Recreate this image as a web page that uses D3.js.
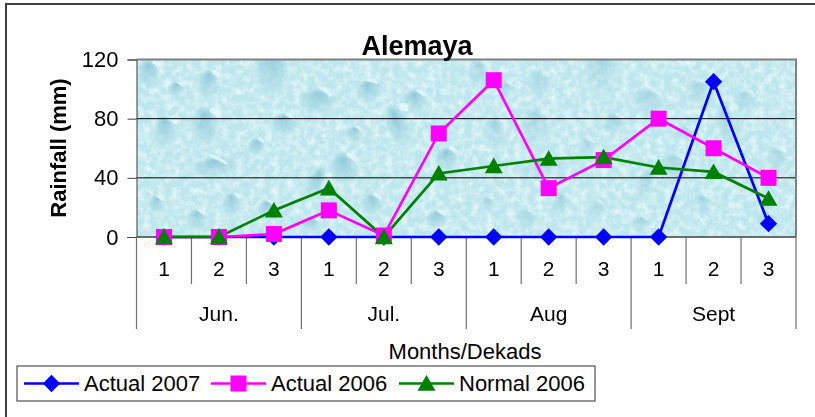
<!DOCTYPE html>
<html>
<head>
<meta charset="utf-8">
<script src="https://cdn.jsdelivr.net/npm/d3@7"></script>
<style>
  html, body { margin: 0; padding: 0; background: #fff; }
  svg { display: block; }
  text { font-family: "Liberation Sans", Arial, sans-serif; fill: #000; }
</style>
</head>
<body>
<svg id="chart" width="815" height="417"></svg>
<script>
const months = ["Jun.", "Jul.", "Aug", "Sept"];
const dekads = ["1", "2", "3"];
const yTicks = [0, 40, 80, 120];
const actual2007 = [0, 0, 0, 0, 0, 0, 0, 0, 0, 0, 105, 9];
const actual2006 = [0, 0, 2, 18, 1, 70, 106, 33, 52, 80, 60, 40];
const normal2006 = [0, 0, 18, 33, 0, 43, 48, 53, 54, 47, 44, 26];

const svg = d3.select("#chart");
const margin = { left: 136.5, right: 796, top: 59.5, bottom: 237 };
const chartWidth = margin.right - margin.left;
const chartHeight = margin.bottom - margin.top;

// outer frame, only top and left fall inside the picture
svg.append("path").attr("d", "M6,417V4H815")
    .attr("fill", "none").attr("stroke", "#404040").attr("stroke-width", 2);

const categories = months.flatMap(m => dekads.map(d => `${m}-${d}`));
const x = d3.scalePoint().domain(categories).range([0, chartWidth]).padding(0.5);
const xBand = d3.scaleBand().domain(categories).range([0, chartWidth]);
const y = d3.scaleLinear().domain([0, 120]).range([chartHeight, 0]);

const defs = svg.append("defs");
const drop = defs.append("radialGradient").attr("id", "drop")
    .attr("cx", "50%").attr("cy", "50%").attr("r", "50%").attr("fx", "50%").attr("fy", "20%");
drop.append("stop").attr("offset", "0%").attr("stop-color", "#7fbdd0").attr("stop-opacity", 0.75);
drop.append("stop").attr("offset", "70%").attr("stop-color", "#9dd3df").attr("stop-opacity", 0.4);
drop.append("stop").attr("offset", "100%").attr("stop-color", "#d4f1f5").attr("stop-opacity", 0.35);
const grain = defs.append("filter").attr("id", "grain").attr("x", 0).attr("y", 0).attr("width", "100%").attr("height", "100%");
grain.append("feTurbulence").attr("type", "fractalNoise").attr("baseFrequency", 0.14).attr("numOctaves", 3).attr("seed", 4);
grain.append("feColorMatrix").attr("values", "0 0 0 0 0.85  0 0 0 0 0.96  0 0 0 0 0.97  1.8 0 0 0 -0.7");
const grainDark = defs.append("filter").attr("id", "grain-dark").attr("x", 0).attr("y", 0).attr("width", "100%").attr("height", "100%");
grainDark.append("feTurbulence").attr("type", "fractalNoise").attr("baseFrequency", 0.16).attr("numOctaves", 2).attr("seed", 11);
grainDark.append("feColorMatrix").attr("values", "0 0 0 0 0.55  0 0 0 0 0.78  0 0 0 0 0.84  1.8 0 0 0 -0.75");
defs.append("clipPath").attr("id", "plot-clip").append("rect").attr("width", chartWidth).attr("height", chartHeight);

const chart = svg.append("g").attr("transform", `translate(${margin.left},${margin.top})`);

// water drop picture behind the plot
const bg = chart.append("g").attr("clip-path", "url(#plot-clip)");
bg.append("rect").attr("width", chartWidth).attr("height", chartHeight).attr("fill", "#bce7ee");
bg.append("rect").attr("width", chartWidth).attr("height", chartHeight).attr("filter", "url(#grain-dark)");
bg.append("rect").attr("width", chartWidth).attr("height", chartHeight).attr("filter", "url(#grain)");
// [cx, cy, rx, ry, angle] of the bigger drops, the picture repeats at about 330px
const drops = [
    [135, 12, 18, 30, 0], [182, 42, 20, 15, 0], [233, 32, 15, 13, -20], [278, 42, 13, 13, 0],
    [68, 68, 15, 22, 0], [28, 73, 12, 18, 0], [262, 68, 12, 25, -20], [148, 65, 15, 12, 0],
    [78, 108, 27, 11, -8], [207, 110, 17, 18, 0], [178, 125, 9, 20, 25], [120, 88, 10, 10, 0],
    [218, 75, 10, 9, 0], [310, 100, 12, 14, 0], [95, 145, 10, 13, 0], [60, 160, 12, 11, 0],
    [235, 145, 12, 12, 0], [300, 160, 12, 10, 0], [72, 25, 12, 16, 0], [12, 15, 12, 16, 0],
    [40, 30, 10, 8, 0], [130, 150, 10, 10, 0], [175, 165, 11, 9, 0], [20, 145, 9, 9, 0]
];
[0, 330].forEach((dx, t) => {
    const tile = bg.append("g").attr("opacity", t === 0 ? 1 : 0.65);
    tile.selectAll("ellipse").data(drops).join("ellipse")
        .attr("transform", d => `translate(${d[0] + dx},${d[1]}) rotate(${d[4]})`)
        .attr("rx", d => d[2]).attr("ry", d => d[3])
        .attr("fill", "url(#drop)");
    // small bright highlights on the drops
    tile.selectAll("path").data(drops).join("path")
        .attr("transform", d => `translate(${d[0] + dx},${d[1]}) rotate(${d[4] + 35})`)
        .attr("d", d => `M${-d[2] * 0.35},${-d[3] * 0.72}a${d[2] * 0.4},${d[3] * 0.2} 0 1 1 ${d[2] * 0.7},0z`)
        .attr("fill", "#e6f9fa").attr("opacity", 0.8);
});

// gridlines
chart.append("g").selectAll("line").data(yTicks.filter(d => d > 0 && d < 120)).join("line")
    .attr("x1", 0).attr("x2", chartWidth).attr("y1", d => y(d)).attr("y2", d => y(d))
    .attr("stroke", "#000").attr("stroke-width", 1);

// plot border
chart.append("path").attr("d", `M0,0H${chartWidth}V${chartHeight}`)
    .attr("fill", "none").attr("stroke", "#808080").attr("stroke-width", 2);

// y axis
const yAxis = chart.append("g").call(d3.axisLeft(y).tickValues(yTicks).tickSize(9).tickPadding(9));
yAxis.select(".domain").attr("stroke", "#404040");
yAxis.selectAll("line").attr("stroke", "#404040");
yAxis.selectAll("text").style("font-size", "22px").style("font-family", "Liberation Sans");

// multi level x axis
const xAxis = chart.append("g").attr("transform", `translate(0,${chartHeight})`);
xAxis.append("line").attr("x2", chartWidth).attr("stroke", "#404040").attr("stroke-width", 1.5);
const tickEdges = categories.map(c => xBand(c)).concat(chartWidth);
xAxis.selectAll(".minor").data(tickEdges).join("line").attr("class", "minor")
    .attr("x1", d => d).attr("x2", d => d).attr("y1", 0)
    .attr("y2", (d, i) => i % 3 === 0 ? 92 : 47)
    .attr("stroke", "#707070").attr("stroke-width", 1.2);
xAxis.selectAll(".dekad").data(categories).join("text").attr("class", "dekad")
    .attr("x", d => x(d)).attr("y", 38.5).attr("text-anchor", "middle")
    .style("font-size", "21px").text(d => d.split("-")[1]);
xAxis.selectAll(".month").data(months).join("text").attr("class", "month")
    .attr("x", d => x(`${d}-2`)).attr("y", 84).attr("text-anchor", "middle")
    .style("font-size", "21px").text(d => d);

// series
const series = [
    { name: "Actual 2007", values: actual2007, color: "#0000ff", type: "diamond" },
    { name: "Actual 2006", values: actual2006, color: "#ff00ff", type: "square" },
    { name: "Normal 2006", values: normal2006, color: "#008000", type: "triangle" }
];
const markers = {
    diamond: { symbol: d3.symbolSquare, size: 150, rotate: 45, dy: 0 },
    square: { symbol: d3.symbolSquare, size: 256, rotate: 0, dy: 0 },
    triangle: { symbol: d3.symbolTriangle, size: 140, rotate: 0, dy: 2 }
};
const markerPath = s => d3.symbol().type(markers[s.type].symbol).size(markers[s.type].size)();
const markerAt = (s, px, py) => `translate(${px},${py + markers[s.type].dy}) rotate(${markers[s.type].rotate})`;

const line = d3.line().x((d, i) => x(categories[i])).y(d => y(d));
series.forEach(s => {
    chart.append("path").attr("d", line(s.values)).attr("fill", "none")
        .attr("stroke", s.color).attr("stroke-width", 2.7);
});
series.forEach(s => {
    chart.append("g").selectAll("path").data(s.values).join("path")
        .attr("d", markerPath(s))
        .attr("transform", (d, i) => markerAt(s, x(categories[i]), y(d)))
        .attr("fill", s.color);
});

// titles
svg.append("text").attr("x", 417).attr("y", 55).attr("text-anchor", "middle")
    .style("font-size", "27px").style("font-weight", "bold").text("Alemaya");
svg.append("text").attr("transform", "translate(66,148) rotate(-90)").attr("text-anchor", "middle")
    .style("font-size", "22px").style("font-weight", "bold").text("Rainfall (mm)");
svg.append("text").attr("x", 465).attr("y", 359).attr("text-anchor", "middle")
    .style("font-size", "22px").text("Months/Dekads");

// legend
const legend = svg.append("g").attr("transform", "translate(17,366)");
legend.append("rect").attr("width", 578).attr("height", 35).attr("fill", "#fff")
    .attr("stroke", "#505050").attr("stroke-width", 1.2);
const legendX = [7, 194, 382];
series.forEach((s, i) => {
    const g = legend.append("g").attr("transform", `translate(${legendX[i]},17.5)`);
    g.append("line").attr("x2", 55).attr("stroke", s.color).attr("stroke-width", 2.7);
    g.append("path").attr("d", markerPath(s)).attr("transform", markerAt(s, 27.5, 0)).attr("fill", s.color);
    g.append("text").attr("x", 60).attr("y", 7.5).style("font-size", "22px").text(s.name);
});
</script>
</body>
</html>
